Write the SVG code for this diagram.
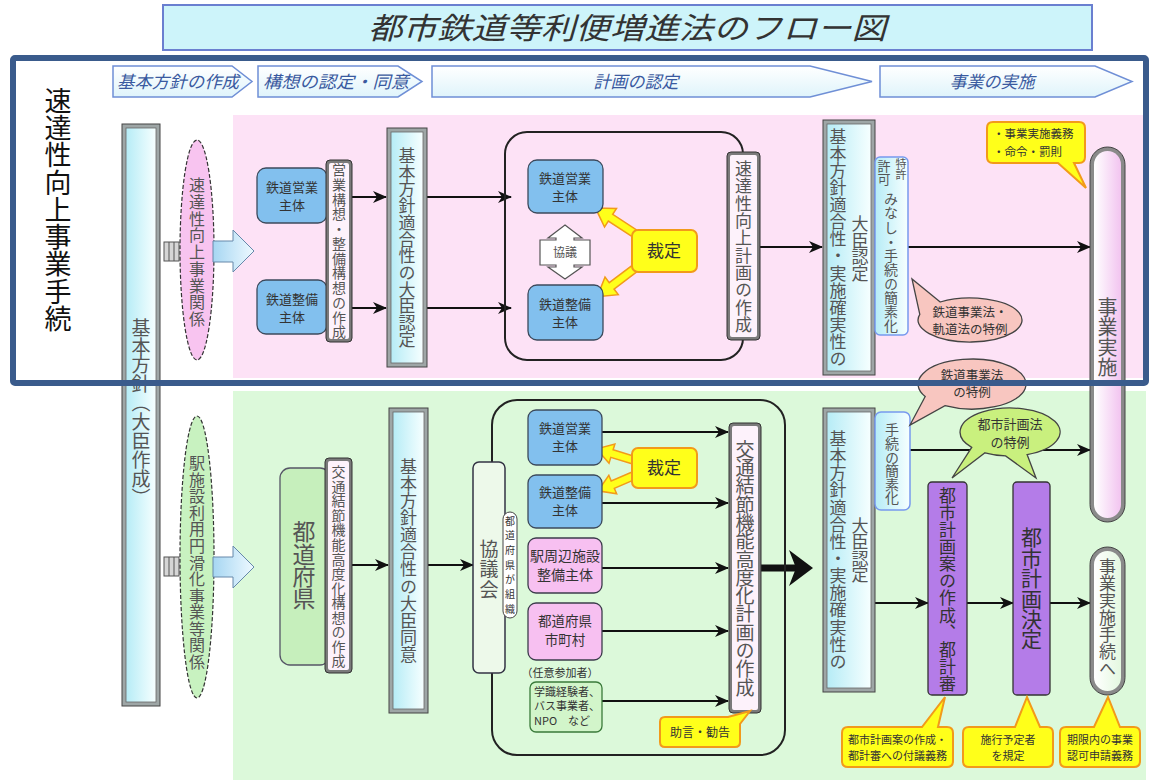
<svg xmlns="http://www.w3.org/2000/svg" width="1149" height="780" viewBox="0 0 1149 780">
<defs>
<style>
text{font-family:'Noto Sans CJK JP','Noto Sans CJK SC',sans-serif;}
.v{writing-mode:vertical-rl;}
.c{stroke:#111;stroke-width:2.2;fill:none;marker-end:url(#ah);}
.blue{fill:#82c0ee;stroke:#3c4a5c;stroke-width:1.3;}
.pk{fill:#f7c0f1;stroke:#3c3c4c;stroke-width:1.3;}
.yel{fill:#ffff1a;stroke:#f29a1a;stroke-width:2;}
.dbo{fill:#7a7a7a;stroke:#333;stroke-width:1;}
.dbi{fill:#fdf2fb;}
.bvo{fill:#9ea6a6;stroke:#444;stroke-width:1;}
.bvi{fill:url(#gCy);stroke:#666;stroke-width:0.8;}
.g{fill:#555;}
.d{fill:#333;}
.stg{fill:url(#gStage);stroke:#6f8fd6;stroke-width:1.5;}
.stt{fill:#3a5aa0;font-style:italic;font-size:17px;text-anchor:middle;}
.bub{stroke:#444;stroke-width:1.3;}
.ya{fill:#ffff1a;stroke:#f29a1a;stroke-width:1.5;}
.ell{stroke:#333;stroke-width:1.2;stroke-dasharray:4 2;}
.cb{fill:#d6d6d6;stroke:#555;stroke-width:1;}
</style>
<linearGradient id="gCy" x1="0" y1="0" x2="1" y2="0">
<stop offset="0" stop-color="#b6ecf6"/><stop offset="1" stop-color="#f6ffff"/>
</linearGradient>
<linearGradient id="gStage" x1="0" y1="0" x2="0" y2="1">
<stop offset="0" stop-color="#ffffff"/><stop offset="1" stop-color="#dff4fb"/>
</linearGradient>
<linearGradient id="gBlk" x1="0" y1="0" x2="1" y2="0">
<stop offset="0" stop-color="#a6d6f2"/><stop offset="1" stop-color="#eef9ff"/>
</linearGradient>
<linearGradient id="gPkBar" x1="0" y1="0" x2="1" y2="0">
<stop offset="0" stop-color="#ffffff"/><stop offset="1" stop-color="#f2c4f0"/>
</linearGradient>
<linearGradient id="gGrBar" x1="0" y1="0" x2="1" y2="0">
<stop offset="0" stop-color="#ffffff"/><stop offset="1" stop-color="#e4f8e0"/>
</linearGradient>
<marker id="ah" viewBox="0 0 14 12" refX="13" refY="6" markerWidth="14" markerHeight="12" markerUnits="userSpaceOnUse" orient="auto">
<path d="M0,0 L14,6 L0,12 L4,6 Z" fill="#111"/>
</marker>
<polygon id="ya46" points="0,-4 28,-4 28,-11 46,0 28,11 28,4 0,4"/>
<polygon id="ya38" points="0,-4 22,-4 22,-10 38,0 22,10 22,4 0,4"/>
</defs>

<rect width="1149" height="780" fill="#ffffff"/>

<g id="title">
<rect x="163" y="5" width="929" height="45" fill="#cdf4fa" stroke="#6a7fd0" stroke-width="2"/>
<text x="627" y="39" font-size="30" font-style="italic" fill="#333" text-anchor="middle" textLength="518" lengthAdjust="spacingAndGlyphs">都市鉄道等利便増進法のフロー図</text>
</g>

<g id="stages">
<polygon class="stg" points="113,66 232,66 252,81.5 232,97 113,97"/>
<text class="stt" x="178" y="88" textLength="122" lengthAdjust="spacingAndGlyphs">基本方針の作成</text>
<polygon class="stg" points="258,66 398,66 422,81.5 398,97 258,97"/>
<text class="stt" x="336" y="88" textLength="146" lengthAdjust="spacingAndGlyphs">構想の認定・同意</text>
<polygon class="stg" points="432,66 810,66 872,81.5 810,97 432,97"/>
<text class="stt" x="636" y="88">計画の認定</text>
<polygon class="stg" points="880,66 1095,66 1132,81.5 1095,97 880,97"/>
<text class="stt" x="992" y="88">事業の実施</text>
</g>

<rect id="area-upper" x="233" y="115" width="913" height="263" fill="#fde2f6"/>
<rect id="area-lower" x="233" y="391" width="913" height="389" fill="#dcf9da"/>

<g id="kihon-houshin">
<rect class="bvo" x="122" y="124" width="38" height="582"/>
<rect class="bvi" x="126" y="128" width="30" height="574"/>
<text class="v g" x="141" y="318" font-size="19" textLength="189" lengthAdjust="spacing">基本方針（大臣作成）</text>
</g>

<g id="ell-upper">
<rect class="cb" x="164" y="242" width="15" height="19"/>
<line x1="169" y1="242" x2="169" y2="261" stroke="#555"/>
<line x1="174" y1="242" x2="174" y2="261" stroke="#555"/>
<ellipse class="ell" cx="197" cy="250" rx="17" ry="110" fill="#f8c4f0"/>
<text class="v g" x="197" y="177" font-size="16" textLength="150" lengthAdjust="spacing">速達性向上事業関係</text>
<polygon points="213,241 233,241 233,230 254,251 233,272 233,262 213,262" fill="url(#gBlk)" stroke="#6688aa" stroke-width="1"/>
</g>

<g id="ell-lower">
<rect class="cb" x="164" y="557" width="15" height="19"/>
<line x1="169" y1="557" x2="169" y2="576" stroke="#555"/>
<line x1="174" y1="557" x2="174" y2="576" stroke="#555"/>
<ellipse class="ell" cx="197" cy="557" rx="17" ry="141" fill="#c8f2c0"/>
<text class="v g" x="197" y="455" font-size="16" textLength="215" lengthAdjust="spacing">駅施設利用円滑化事業等関係</text>
<polygon points="213,557 233,557 233,546 254,567 233,588 233,577 213,577" fill="url(#gBlk)" stroke="#6688aa" stroke-width="1"/>
</g>

<g id="connectors">
<line class="c" x1="352" y1="197" x2="386" y2="197"/>
<line class="c" x1="352" y1="308" x2="386" y2="308"/>
<line class="c" x1="427" y1="197" x2="511" y2="197"/>
<line class="c" x1="427" y1="308" x2="511" y2="308"/>
<line class="c" x1="760" y1="247" x2="822" y2="247"/>
<line class="c" x1="908" y1="247" x2="1090" y2="247"/>
<line class="c" x1="352" y1="565" x2="388" y2="565"/>
<line class="c" x1="428" y1="565" x2="473" y2="565"/>
<line class="c" x1="602" y1="432" x2="728" y2="432"/>
<line class="c" x1="602" y1="503" x2="728" y2="503"/>
<line class="c" x1="602" y1="568" x2="728" y2="568"/>
<line class="c" x1="602" y1="631" x2="728" y2="631"/>
<line class="c" x1="602" y1="701" x2="728" y2="701"/>
<line x1="761" y1="568" x2="797" y2="568" stroke="#111" stroke-width="7"/>
<polygon points="789,550 813,568 789,586 796,568" fill="#111"/>
<line class="c" x1="910" y1="450" x2="1090" y2="450"/>
<line class="c" x1="875" y1="603" x2="928" y2="603"/>
<line class="c" x1="967" y1="603" x2="1013" y2="603"/>
<line class="c" x1="1050" y1="603" x2="1090" y2="603"/>
<use href="#ya46" class="ya" transform="translate(634,233) rotate(213)"/>
<use href="#ya46" class="ya" transform="translate(634,269) rotate(143)"/>
<use href="#ya38" class="ya" transform="translate(633,460) rotate(197)"/>
<use href="#ya38" class="ya" transform="translate(633,476) rotate(157)"/>
</g>

<g id="u-eigyo">
<rect class="blue" x="257" y="168" width="70" height="55" rx="9"/>
<text class="d" x="292" y="192" font-size="13" text-anchor="middle">鉄道営業</text>
<text class="d" x="292" y="210" font-size="13" text-anchor="middle">主体</text>
</g>
<g id="u-seibi">
<rect class="blue" x="257" y="280" width="70" height="54" rx="9"/>
<text class="d" x="292" y="304" font-size="13" text-anchor="middle">鉄道整備</text>
<text class="d" x="292" y="322" font-size="13" text-anchor="middle">主体</text>
</g>
<g id="u-kousou">
<rect class="dbo" x="326" y="160" width="26" height="182" rx="4"/>
<rect class="dbi" x="329" y="163" width="20" height="176" rx="2"/>
<text class="v g" x="339" y="163" font-size="14" textLength="176" lengthAdjust="spacing">営業構想・整備構想の作成</text>
</g>
<g id="u-nintei">
<rect class="bvo" x="387" y="128" width="40" height="239"/>
<rect class="bvi" x="391" y="132" width="32" height="231"/>
<text class="v g" x="407" y="147" font-size="17" textLength="201" lengthAdjust="spacing">基本方針適合性の大臣認定</text>
</g>

<g id="u-container">
<rect x="505" y="132" width="238" height="228" rx="22" fill="none" stroke="#222" stroke-width="2"/>
</g>
<g id="u-eigyo2">
<rect class="blue" x="528" y="160" width="75" height="53" rx="9"/>
<text class="d" x="565" y="183" font-size="13" text-anchor="middle">鉄道営業</text>
<text class="d" x="565" y="201" font-size="13" text-anchor="middle">主体</text>
</g>
<g id="u-seibi2">
<rect class="blue" x="528" y="285" width="75" height="55" rx="9"/>
<text class="d" x="565" y="309" font-size="13" text-anchor="middle">鉄道整備</text>
<text class="d" x="565" y="327" font-size="13" text-anchor="middle">主体</text>
</g>
<g id="u-kyougi">
<path d="M565,225 L582,238 L574,238 L574,240 L590,240 L590,265 L574,265 L574,267 L582,267 L565,279 L548,267 L556,267 L556,265 L540,265 L540,240 L556,240 L556,238 L548,238 Z" fill="#fff" stroke="#555" stroke-width="1.2"/>
<text class="g" x="565" y="257" font-size="12" text-anchor="middle">協議</text>
</g>
<g id="u-saitei">
<rect class="yel" x="632" y="230" width="65" height="42" rx="6"/>
<text class="d" x="664" y="257" font-size="17" text-anchor="middle">裁定</text>
</g>
<g id="u-keikaku">
<rect class="dbo" x="727" y="152" width="33" height="188" rx="4"/>
<rect class="dbi" x="730" y="155" width="27" height="182" rx="2"/>
<text class="v g" x="743.5" y="160" font-size="17" textLength="173" lengthAdjust="spacing">速達性向上計画の作成</text>
</g>
<g id="u-daijin">
<rect class="bvo" x="823" y="120" width="52" height="255"/>
<rect class="bvi" x="827" y="124" width="44" height="247"/>
<text class="v g" x="838" y="128" font-size="17" textLength="239" lengthAdjust="spacing">基本方針適合性・実施確実性の</text>
<text class="v g" x="860" y="215" font-size="17" textLength="67" lengthAdjust="spacing">大臣認定</text>
</g>
<g id="u-minashi">
<rect x="875" y="157" width="33" height="178" rx="5" fill="url(#gCy)" stroke="#7799ee" stroke-width="1.5"/>
<text class="v g" x="901" y="158" font-size="11">特許</text>
<text class="v g" x="884" y="160" font-size="13">許可</text>
<text class="v g" x="891" y="192" font-size="14" textLength="141" lengthAdjust="spacing">みなし・手続の簡素化</text>
</g>
<g id="u-bubble1">
<path class="bub" d="M940.2,302 L912,279 L919.8,314.3 A52,22 0 1 0 940.2,302 Z" fill="#f8c6c0"/>
<text class="d" x="970" y="317" font-size="12.5" text-anchor="middle">鉄道事業法・</text>
<text class="d" x="970" y="334" font-size="12.5" text-anchor="middle">軌道法の特例</text>
</g>
<g id="u-gimu">
<path class="yel" d="M993,122 H1079 Q1085,122 1085,128 V157 Q1085,163 1079,163 H1074 L1086,188 L1058,163 H993 Q987,163 987,157 V128 Q987,122 993,122 Z"/>
<text class="d" x="993" y="138" font-size="11.5">・事業実施義務</text>
<text class="d" x="993" y="156" font-size="11.5">・命令・罰則</text>
</g>
<g id="u-jigyo">
<rect x="1090" y="147" width="35" height="375" rx="17.5" fill="#8a8a8a" stroke="#444" stroke-width="1"/>
<rect x="1094" y="151" width="27" height="367" rx="13.5" fill="url(#gPkBar)"/>
<text class="v g" x="1107.5" y="297" font-size="20" textLength="80" lengthAdjust="spacing">事業実施</text>
</g>

<g id="l-todofuken">
<rect x="280" y="468" width="50" height="197" rx="10" fill="#c6efbc" stroke="#556" stroke-width="1.3"/>
<text class="v g" x="304" y="520" font-size="23" textLength="90" lengthAdjust="spacing">都道府県</text>
</g>
<g id="l-kousou">
<rect class="dbo" x="325" y="458" width="27" height="215" rx="4"/>
<rect class="dbi" x="328" y="461" width="21" height="209" rx="2"/>
<text class="v g" x="338.5" y="465" font-size="14" textLength="203" lengthAdjust="spacing">交通結節機能高度化構想の作成</text>
</g>
<g id="l-doui">
<rect class="bvo" x="389" y="408" width="39" height="305"/>
<rect class="bvi" x="393" y="412" width="31" height="297"/>
<text class="v g" x="408.5" y="458" font-size="17" textLength="205" lengthAdjust="spacing">基本方針適合性の大臣同意</text>
</g>
<g id="l-container">
<rect x="492" y="400" width="293" height="355" rx="25" fill="none" stroke="#222" stroke-width="2"/>
</g>
<g id="l-kyougikai">
<rect x="473" y="462" width="32" height="211" rx="6" fill="#edf9ea" stroke="#334" stroke-width="1.5"/>
<text class="v g" x="489" y="539" font-size="19" textLength="60" lengthAdjust="spacing">協議会</text>
<rect x="503" y="512" width="14" height="106" rx="7" fill="#fff" stroke="#444" stroke-width="1"/>
<text class="v d" x="510" y="516" font-size="10" textLength="98" lengthAdjust="spacing">都道府県が組織</text>
</g>
<g id="l-eigyo">
<rect class="blue" x="528" y="410" width="74" height="55" rx="8"/>
<text class="d" x="565" y="433" font-size="13" text-anchor="middle">鉄道営業</text>
<text class="d" x="565" y="451" font-size="13" text-anchor="middle">主体</text>
</g>
<g id="l-seibi">
<rect class="blue" x="528" y="475" width="74" height="53" rx="8"/>
<text class="d" x="565" y="497" font-size="13" text-anchor="middle">鉄道整備</text>
<text class="d" x="565" y="515" font-size="13" text-anchor="middle">主体</text>
</g>
<g id="l-ekishuhen">
<rect class="pk" x="528" y="538" width="74" height="55" rx="8"/>
<text class="d" x="565" y="561" font-size="14" text-anchor="middle">駅周辺施設</text>
<text class="d" x="565" y="580" font-size="14" text-anchor="middle">整備主体</text>
</g>
<g id="l-shichoson">
<rect class="pk" x="528" y="603" width="74" height="57" rx="8"/>
<text class="d" x="565" y="626" font-size="13.5" text-anchor="middle">都道府県</text>
<text class="d" x="565" y="645" font-size="13.5" text-anchor="middle">市町村</text>
</g>
<text id="l-nini" class="d" x="560" y="677" font-size="11" text-anchor="middle">（任意参加者）</text>
<g id="l-gakushiki">
<rect x="530" y="682" width="72" height="50" rx="6" fill="#d2f5ca" stroke="#3a7a3a" stroke-width="1.3"/>
<text class="d" x="534" y="696" font-size="11">学識経験者、</text>
<text class="d" x="534" y="710" font-size="11">バス事業者、</text>
<text class="d" x="534" y="725" font-size="11">NPO　など</text>
</g>
<g id="l-saitei">
<rect class="yel" x="632" y="448" width="65" height="40" rx="6"/>
<text class="d" x="664" y="474" font-size="17" text-anchor="middle">裁定</text>
</g>
<g id="l-keikaku">
<rect class="dbo" x="729" y="423" width="32" height="290" rx="4"/>
<rect class="dbi" x="732" y="426" width="26" height="284" rx="2"/>
<text class="v g" x="745" y="440" font-size="19" textLength="257" lengthAdjust="spacing">交通結節機能高度化計画の作成</text>
</g>
<g id="l-jogen">
<path class="yel" d="M665,717 H728 L750,711 L740,724 V742 Q740,747 735,747 H665 Q660,747 660,742 V722 Q660,717 665,717 Z"/>
<text class="d" x="700" y="737" font-size="12" text-anchor="middle">助言・勧告</text>
</g>
<g id="l-daijin">
<rect class="bvo" x="823" y="408" width="52" height="284"/>
<rect class="bvi" x="827" y="412" width="44" height="276"/>
<text class="v g" x="838" y="430" font-size="17" textLength="240" lengthAdjust="spacing">基本方針適合性・実施確実性の</text>
<text class="v g" x="860" y="517" font-size="17" textLength="66" lengthAdjust="spacing">大臣認定</text>
</g>
<g id="l-kanso">
<rect x="875" y="412" width="35" height="98" rx="6" fill="url(#gCy)" stroke="#7799ee" stroke-width="1.5"/>
<text class="v g" x="892" y="423" font-size="14" textLength="82" lengthAdjust="spacing">手続の簡素化</text>
</g>
<g id="l-bubble-tetsudo">
<path class="bub" d="M925.2,396.5 L910,425 L945,405.7 A54,25 0 1 0 925.2,396.5 Z" fill="#f8c6c0"/>
<text class="d" x="972" y="380" font-size="12.5" text-anchor="middle">鉄道事業法</text>
<text class="d" x="972" y="397" font-size="12.5" text-anchor="middle">の特例</text>
</g>
<g id="l-bubble-toshi">
<path class="bub" d="M1027.1,454.6 L1036,478 L1005.6,455.9 A50,24 0 0 1 985,452.8 L952,478 L971.7,447.4 A50,24 0 1 1 1027.1,454.6 Z" fill="#c9f07e"/>
<text class="d" x="1010" y="429" font-size="13" text-anchor="middle">都市計画法</text>
<text class="d" x="1010" y="447" font-size="13" text-anchor="middle">の特例</text>
</g>
<g id="l-toshian">
<rect x="928" y="482" width="39" height="213" rx="4" fill="#b47ce8" stroke="#333" stroke-width="1.3"/>
<text class="v d" x="947.5" y="487" font-size="17" textLength="205" lengthAdjust="spacing">都市計画案の作成、都計審</text>
</g>
<g id="l-kettei">
<rect x="1013" y="482" width="37" height="213" rx="4" fill="#b47ce8" stroke="#333" stroke-width="1.3"/>
<text class="v d" x="1031.5" y="527" font-size="21" textLength="123" lengthAdjust="spacing">都市計画決定</text>
</g>
<g id="l-tetsuzuki">
<rect x="1090" y="547" width="35" height="148" rx="17.5" fill="#8a8a8a" stroke="#444" stroke-width="1"/>
<rect x="1094" y="551" width="27" height="140" rx="13.5" fill="url(#gGrBar)"/>
<text class="v g" x="1107.5" y="558" font-size="17" textLength="119" lengthAdjust="spacing">事業実施手続へ</text>
</g>
<g id="l-call1">
<path class="yel" d="M848,727 H922 L945,697 L938,727 H947 Q953,727 953,733 V761 Q953,767 947,767 H848 Q842,767 842,761 V733 Q842,727 848,727 Z"/>
<text class="d" x="897.5" y="744" font-size="11" text-anchor="middle">都市計画案の作成・</text>
<text class="d" x="897.5" y="760" font-size="11" text-anchor="middle">都計審への付議義務</text>
</g>
<g id="l-call2">
<path class="yel" d="M969,727 H1015 L1027,697 L1040,727 H1047 Q1053,727 1053,733 V761 Q1053,767 1047,767 H969 Q963,767 963,761 V733 Q963,727 969,727 Z"/>
<text class="d" x="1008" y="744" font-size="11" text-anchor="middle">施行予定者</text>
<text class="d" x="1008" y="760" font-size="11" text-anchor="middle">を規定</text>
</g>
<g id="l-call3">
<path class="yel" d="M1066,727 H1094 L1108,697 L1120,727 H1134 Q1140,727 1140,733 V761 Q1140,767 1134,767 H1066 Q1060,767 1060,761 V733 Q1060,727 1066,727 Z"/>
<text class="d" x="1100" y="744" font-size="11" text-anchor="middle">期限内の事業</text>
<text class="d" x="1100" y="760" font-size="11" text-anchor="middle">認可申請義務</text>
</g>

<g id="frame">
<rect x="13" y="58" width="1133" height="325" rx="2" fill="none" stroke="#3a5b8c" stroke-width="6"/>
<text class="v" x="58" y="87" font-size="27" fill="#111" textLength="245" lengthAdjust="spacing">速達性向上事業手続</text>
</g>
</svg>
